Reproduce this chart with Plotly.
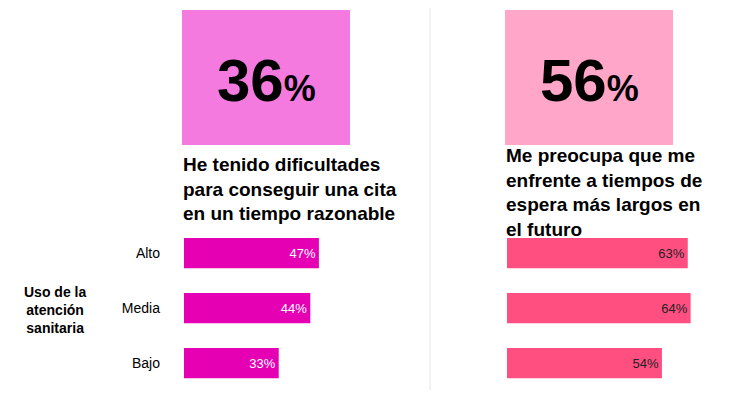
import plotly.graph_objects as go

levels = ["Alto", "Media", "Bajo"]
left_vals = [47, 44, 33]
right_vals = [63, 64, 54]
left_big = 36
right_big = 56
left_title = "He tenido dificultades<br>para conseguir una cita<br>en un tiempo razonable"
right_title = "Me preocupa que me<br>enfrente a tiempos de<br>espera más largos en<br>el futuro"

W, H = 744, 413
FONT = "Liberation Sans, Arial"
OFF = 8  # page body margin


def px(x):
    return (x - OFF) / W


def py(y):
    return 1 - (y - OFF) / H


fig = go.Figure()
fig.add_trace(go.Bar(
    x=left_vals, y=levels, orientation="h", xaxis="x", yaxis="y",
    marker=dict(color="#E600B4", line=dict(width=0)), width=0.55,
    text=[f"{v}%" for v in left_vals], textposition="inside", insidetextanchor="end",
    textfont=dict(color="white", size=13, family=FONT), hoverinfo="skip",
))
fig.add_trace(go.Bar(
    x=right_vals, y=levels, orientation="h", xaxis="x2", yaxis="y",
    marker=dict(color="#FF4F81", line=dict(width=0)), width=0.55,
    text=[f"{v}%" for v in right_vals], textposition="inside", insidetextanchor="end",
    textfont=dict(color="#222222", size=13, family=FONT), hoverinfo="skip",
))

fig.update_layout(
    width=W, height=H, margin=dict(l=0, r=0, t=0, b=0),
    paper_bgcolor="white", plot_bgcolor="white", showlegend=False,
    font=dict(family=FONT, color="black"),
    xaxis=dict(domain=[px(184), px(372)], range=[0, 65.5], visible=False, fixedrange=True),
    xaxis2=dict(domain=[px(507), px(744)], range=[0, 82.6], visible=False, fixedrange=True),
    yaxis=dict(domain=[py(390.5), py(225.5)], autorange="reversed", showticklabels=True,
               tickfont=dict(size=14, color="black"), ticks="", showgrid=False,
               showline=False, zeroline=False, anchor="free", position=px(160),
               fixedrange=True),
)

fig.add_shape(type="rect", xref="paper", yref="paper", x0=px(182), x1=px(350),
              y0=py(145), y1=py(10), fillcolor="#F47AE0", line_width=0)
fig.add_shape(type="rect", xref="paper", yref="paper", x0=px(505), x1=px(673),
              y0=py(145), y1=py(10), fillcolor="#FFA6C9", line_width=0)
fig.add_shape(type="line", xref="paper", yref="paper", x0=px(430), x1=px(430),
              y0=py(390), y1=py(8), line=dict(color="#E4E4E4", width=1))

for cx, val in [(266, left_big), (589, right_big)]:
    fig.add_annotation(xref="paper", yref="paper", x=px(cx), y=py(80),
                       text=f"<b>{val}<span style='font-size:36px'>%</span></b>",
                       showarrow=False, font=dict(size=60, color="black"),
                       xanchor="center", yanchor="middle")

fig.add_annotation(xref="paper", yref="paper", x=px(181), y=py(152),
                   text=f"<b>{left_title}</b>", showarrow=False, align="left",
                   xanchor="left", yanchor="top", font=dict(size=19))
fig.add_annotation(xref="paper", yref="paper", x=px(504), y=py(143),
                   text=f"<b>{right_title}</b>", showarrow=False, align="left",
                   xanchor="left", yanchor="top", font=dict(size=19))
fig.add_annotation(xref="paper", yref="paper", x=px(55), y=py(310),
                   text="<b>Uso de la<br>atención<br>sanitaria</b>", showarrow=False,
                   align="center", xanchor="center", yanchor="middle", font=dict(size=14))

fig.write_html("out.html")
